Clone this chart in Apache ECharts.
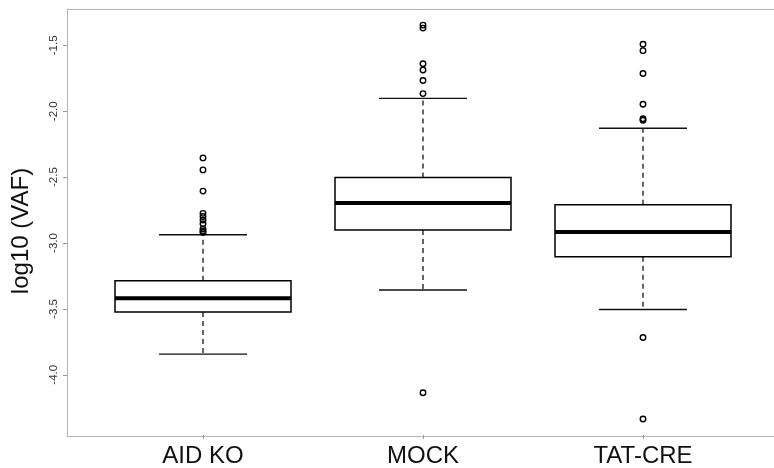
<!DOCTYPE html>
<html>
<head>
<meta charset="utf-8">
<script src="https://cdn.jsdelivr.net/npm/echarts@6/dist/echarts.min.js"></script>
<style>
html,body{margin:0;padding:0;background:#fff;}
#chart{width:774px;height:468px;}
</style>
</head>
<body>
<div id="chart"></div>
<script>
// ---- data ----
var categories = ['AID KO', 'MOCK', 'TAT-CRE'];
var lowerWhisker = [-3.843, -3.356, -3.505];
var q1 = [-3.523, -2.902, -3.104];
var median = [-3.419, -2.697, -2.917];
var q3 = [-3.286, -2.502, -2.710];
var upperWhisker = [-2.937, -1.902, -2.129];
var outliersAIDKO = [-2.354, -2.445, -2.606, -2.775, -2.799, -2.826, -2.854, -2.894, -2.909, -2.920];
var outliersMOCK = [-1.346, -1.369, -1.639, -1.687, -1.767, -1.866, -4.136];
var outliersTATCRE = [-1.492, -1.540, -1.714, -1.947, -2.057, -2.068, -3.717, -4.336];
var yTicks = [-4.0, -3.5, -3.0, -2.5, -2.0, -1.5];
var yTitle = 'log10 (VAF)';

var boxData = categories.map(function (c, i) {
  return [i, lowerWhisker[i], q1[i], median[i], q3[i], upperWhisker[i]];
});
var outlierData = [];
[outliersAIDKO, outliersMOCK, outliersTATCRE].forEach(function (arr, i) {
  arr.forEach(function (v) { outlierData.push([i, v]); });
});

var FONT = '"Liberation Sans", Arial, Helvetica, sans-serif';
var FRAME = '#b4b4b4';

function renderBox(params, api) {
  var idx = api.value(0);
  var lw = api.value(1), a = api.value(2), m = api.value(3), b = api.value(4), uw = api.value(5);
  var band = api.size([1, 0])[0];
  var bw = band * 0.8, cw = band * 0.4;
  var pLw = api.coord([idx, lw]);
  var pQ1 = api.coord([idx, a]);
  var pMed = api.coord([idx, m]);
  var pQ3 = api.coord([idx, b]);
  var pUw = api.coord([idx, uw]);
  var x = pMed[0];
  var dashStyle = { stroke: '#000', lineWidth: 1.2, lineDash: [5, 4] };
  var capStyle = { stroke: '#111', lineWidth: 1.4 };
  return {
    type: 'group',
    children: [
      { type: 'line', shape: { x1: x, y1: pQ3[1], x2: x, y2: pUw[1] }, style: dashStyle },
      { type: 'line', shape: { x1: x, y1: pQ1[1], x2: x, y2: pLw[1] }, style: dashStyle },
      { type: 'line', shape: { x1: x - cw / 2, y1: pUw[1], x2: x + cw / 2, y2: pUw[1] }, style: capStyle },
      { type: 'line', shape: { x1: x - cw / 2, y1: pLw[1], x2: x + cw / 2, y2: pLw[1] }, style: capStyle },
      { type: 'rect', shape: { x: x - bw / 2, y: pQ3[1], width: bw, height: pQ1[1] - pQ3[1] },
        style: { fill: '#fff', stroke: '#000', lineWidth: 1.5 } },
      { type: 'line', shape: { x1: x - bw / 2, y1: pMed[1], x2: x + bw / 2, y2: pMed[1] },
        style: { stroke: '#000', lineWidth: 4 } }
    ]
  };
}

var frameAxis = function (extra) {
  return Object.assign({
    type: 'value', gridIndex: 1, min: 0, max: 1,
    axisLine: { show: true, onZero: false, lineStyle: { color: FRAME, width: 1 } },
    axisTick: { show: false }, axisLabel: { show: false }, splitLine: { show: false }
  }, extra);
};

var chart = echarts.init(document.getElementById('chart'), null, { renderer: 'canvas' });
chart.setOption({
  animation: false,
  backgroundColor: '#fff',
  grid: [
    { left: 93, right: 21, top: 9, bottom: 32, show: false, containLabel: false },
    { left: 67, right: 0, top: 9, bottom: 32, show: false, containLabel: false }
  ],
  xAxis: [
    {
      type: 'category', gridIndex: 0, data: categories, boundaryGap: true,
      axisLine: { show: false },
      axisTick: { show: true, alignWithLabel: true, length: 4, lineStyle: { color: '#999', width: 1 } },
      axisLabel: { fontFamily: FONT, fontSize: 24, color: '#111', margin: 9 },
      splitLine: { show: false }
    },
    frameAxis({ position: 'bottom' }),
    frameAxis({ position: 'top' })
  ],
  yAxis: [
    {
      type: 'value', gridIndex: 0, min: -4.457, max: -1.224, offset: 26,
      name: yTitle, nameLocation: 'middle', nameRotate: 90, nameGap: 34,
      nameTextStyle: { fontFamily: FONT, fontSize: 24, color: '#111', padding: [0, 18, 0, 0] },
      axisLine: { show: false },
      axisTick: { show: true, length: 4, customValues: yTicks, lineStyle: { color: '#999', width: 1 } },
      axisLabel: { rotate: 90, fontFamily: FONT, fontSize: 11.5, color: '#333', margin: 7,
        customValues: yTicks, formatter: function (v) { return v.toFixed(1); } },
      splitLine: { show: false }
    },
    frameAxis({ position: 'left' })
  ],
  series: [
    {
      type: 'custom', xAxisIndex: 0, yAxisIndex: 0,
      renderItem: renderBox, data: boxData, z: 3,
      encode: { x: 0, y: [1, 2, 3, 4, 5] }
    },
    {
      type: 'scatter', xAxisIndex: 0, yAxisIndex: 0, data: outlierData, z: 4,
      symbol: 'circle', symbolSize: 5.5,
      itemStyle: { color: 'rgba(255,255,255,0)', borderColor: '#000', borderWidth: 1.4, opacity: 1 }
    }
  ]
});
</script>
</body>
</html>
